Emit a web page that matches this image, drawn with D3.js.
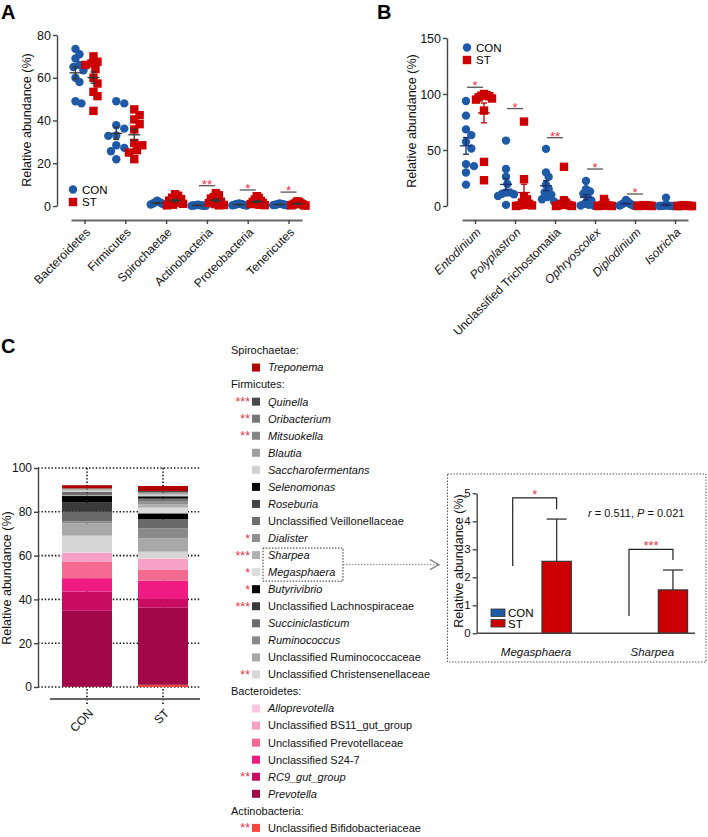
<!DOCTYPE html>
<html><head><meta charset="utf-8">
<script src="https://cdn.jsdelivr.net/npm/d3@7"></script>
<style>body{margin:0;background:#fff}</style>
</head><body>
<svg id="chart" width="708" height="837"></svg>
<script>
// ---------------- DATA ----------------
const groups = ["CON", "ST"];

// Panel A: phyla
const phylaA = ["Bacteroidetes", "Firmicutes", "Spirochaetae", "Actinobacteria", "Proteobacteria", "Tenericutes"];
const phylaCON = [
  [73.5, 69, 71, 65, 63.5, 66, 60, 58, 49, 48],
  [49, 48, 37.8, 36.2, 33, 32.8, 28.4, 27.2, 25.6, 21.9],
  [2.5, 2.0, 1.8, 1.6, 1.4, 1.2, 1.0, 0.9, 0.7, 0.5],
  [0.6, 0.5, 0.4, 0.3, 0.3, 0.2, 0.2, 0.1, 0.1, 0.1],
  [1.2, 1.0, 0.9, 0.8, 0.7, 0.6, 0.5, 0.4, 0.3, 0.2],
  [1.2, 1.0, 0.9, 0.8, 0.7, 0.6, 0.5, 0.5, 0.4, 0.3]
];
const phylaST = [
  [70, 67.5, 66.7, 66, 64, 60, 57.3, 53.4, 51.4, 44.5],
  [45.2, 42.5, 40.5, 38.3, 35.8, 29.5, 28.4, 26.1, 25, 21.9],
  [5.5, 4.8, 3.9, 3.2, 2.5, 2.0, 1.5, 1.0, 0.6, 0.3],
  [6.0, 5.0, 4.2, 3.5, 2.8, 2.0, 1.4, 0.9, 0.5, 0.3],
  [4.6, 3.8, 3.0, 2.4, 1.9, 1.5, 1.2, 0.9, 0.6, 0.4],
  [2.2, 1.8, 1.5, 1.2, 1.0, 0.8, 0.6, 0.4, 0.3, 0.2]
];
const sigACats = ["Actinobacteria", "Proteobacteria", "Tenericutes"];
const sigALevel = [9.5, 7.5, 6.5];
const sigAStars = ["**", "*", "*"];
const yTicksA = [0, 20, 40, 60, 80];

// Panel B: protozoa genera
const protoB = ["Entodinium", "Polyplastron", "Unclassified Trichostomatia", "Ophryoscolex", "Diplodinium", "Isotricha"];
const protoCON = [
  [93.8, 80.7, 68.4, 63.3, 57.4, 51.4, 37.4, 35.6, 29.9, 19.1],
  [58.4, 33.1, 26.2, 19.7, 12, 12, 11, 10.5, 9, 1],
  [51, 30, 26, 19, 15, 12, 10, 8, 6, 4],
  [22.4, 15, 13, 11, 8, 5, 2, 1, 0.5, 0.2],
  [5.4, 4, 3, 2.5, 2, 1.5, 1, 0.8, 0.5, 0.3],
  [7.5, 1, 0.5, 0.3, 0.2, 0.1, 0.1, 0, 0, 0]
];
const protoST = [
  [100, 99, 98.5, 98, 97, 96, 95, 85.2, 39.4, 23],
  [75.4, 23.9, 8, 6, 3, 2, 1, 0.5, 0.5, 0],
  [35, 5, 3, 2, 1, 1, 0.5, 0.5, 0, 0],
  [6.3, 3, 1, 0.5, 0.3, 0.2, 0.1, 0.1, 0, 0],
  [0.8, 0.5, 0.4, 0.3, 0.2, 0.2, 0.1, 0.1, 0, 0],
  [0.8, 0.5, 0.3, 0.2, 0.1, 0.1, 0, 0, 0, 0]
];
const sigBCats = ["Entodinium", "Polyplastron", "Unclassified Trichostomatia", "Ophryoscolex", "Diplodinium"];
const sigBLevel = [106, 87, 61, 33, 10.7];
const sigBStars = ["*", "*", "**", "*", "*"];
const yTicksB = [0, 50, 100, 150];

// Panel C: bacterial genera (legend order, top of stack first)
const generaC = ["Treponema", "Quinella", "Oribacterium", "Mitsuokella", "Blautia", "Saccharofermentans",
  "Selenomonas", "Roseburia", "Unclassified Veillonellaceae", "Dialister", "Sharpea", "Megasphaera",
  "Butyrivibrio", "Unclassified Lachnospiraceae", "Succiniclasticum", "Ruminococcus",
  "Unclassified Ruminococcaceae", "Unclassified Christensenellaceae", "Alloprevotella",
  "Unclassified BS11_gut_group", "Unclassified Prevotellaceae", "Unclassified S24-7", "RC9_gut_group",
  "Prevotella", "Unclassified Bifidobacteriaceae"];
const phylumC = ["Spirochaetae",
  "Firmicutes", "Firmicutes", "Firmicutes", "Firmicutes", "Firmicutes", "Firmicutes", "Firmicutes", "Firmicutes",
  "Firmicutes", "Firmicutes", "Firmicutes", "Firmicutes", "Firmicutes", "Firmicutes", "Firmicutes", "Firmicutes", "Firmicutes",
  "Bacteroidetes", "Bacteroidetes", "Bacteroidetes", "Bacteroidetes", "Bacteroidetes", "Bacteroidetes",
  "Actinobacteria"];
const conC = [1.4, 0.2, 0.2, 0.2, 0.4, 0.8, 0.3, 0.4, 0.6, 0.3, 0.05, 0.1, 3.0, 4.2, 4.3, 1.0, 5.6, 7.6, 0.3, 4.1, 7.4, 6.1, 8.8, 34.7, 0.1];
const stC  = [2.3, 0.5, 0.3, 0.4, 0.4, 0.8, 0.8, 0.6, 1.0, 1.2, 1.6, 2.6, 2.6, 0.3, 3.9, 4.6, 6.1, 3.0, 0.3, 5.0, 5.0, 8.3, 4.0, 35.2, 1.0];
const starsC = ["", "***", "**", "**", "", "", "", "", "", "*", "***", "*", "*", "***", "", "", "", "**", "", "", "", "", "**", "", "**"];
const yTicksC = [0, 20, 40, 60, 80, 100];

// Inset
const insetCats = ["Megasphaera", "Sharpea"];
const insetMeanCON = [0.01, 0.01];
const insetMeanST = [2.57, 1.55];
const insetErrST = [1.51, 0.71];
const insetStars = ["*", "***"];
const insetBracketLeftLow = [2.4, 0.62];
const insetBracketTop = [4.84, 3.0];
const insetBracketRightLow = [4.43, 2.62];
const insetStat = {r: "0.511", P: "0.021"};
const yTicksInset = [0, 1, 2, 3, 4, 5];

// ---------------- STYLE ----------------
const FONT = '"Liberation Sans", Arial, Helvetica, sans-serif';
const BLUE = "#1f5aa6", RED = "#cc0000", STAR = "#e8344a", AX = "#444";
const colorsC = ["#b00000", "#4a4a4a", "#777777", "#858585", "#a0a0a0", "#d0d0d0",
  "#0a0a0a", "#444444", "#6e6e6e", "#909090", "#b0b0b0", "#dcdcdc",
  "#000000", "#3a3a3a", "#6a6a6a", "#8a8a8a", "#a8a8a8", "#d6d6d6",
  "#fcc6dd", "#f7a1c4", "#f56a90", "#ef1a82", "#c80c62", "#a0084a", "#f4473f"];

const svg = d3.select("#chart").attr("font-family", FONT);

function styleAxis(sel, fs) {
  sel.attr("font-family", FONT).attr("font-size", fs);
  sel.select(".domain").attr("stroke", AX).attr("stroke-width", 1.4);
  sel.selectAll(".tick line").attr("stroke", AX).attr("stroke-width", 1.4);
  sel.selectAll(".tick text").attr("fill", "#111");
}

function beeswarm(vals, y, r, maxHalf) {
  const order = d3.range(vals.length).sort((a, b) => d3.descending(vals[a], vals[b]));
  const placed = [];
  const off = new Array(vals.length).fill(0);
  const step = r * 0.8, minD = r * 1.8;
  for (const i of order) {
    const yi = y(vals[i]);
    for (let k = 0; k < 80; k++) {
      const c = k === 0 ? 0 : (k % 2 ? 1 : -1) * Math.ceil(k / 2) * step;
      if (placed.every(p => Math.hypot(p.x - c, p.y - yi) >= minD)) { off[i] = c; break; }
    }
    placed.push({x: off[i], y: yi});
  }
  const mx = d3.max(off, o => Math.abs(o));
  const s = mx > maxHalf ? maxHalf / mx : 1;
  return off.map(o => o * s);
}

function dotPanel(o) {
  const g = svg.append("g");
  const x = d3.scalePoint().domain(o.cats).range(o.xRange).padding(o.pad);
  const y = d3.scaleLinear().domain(o.yDomain).range(o.yRange);

  const ya = g.append("g").attr("transform", `translate(${o.yAxisX},0)`)
    .call(d3.axisLeft(y).tickValues(o.yTicks).tickFormat(d3.format("d")).tickSize(4).tickSizeOuter(0).tickPadding(2));
  styleAxis(ya, 12.5);

  const xa = g.append("g").attr("transform", `translate(0,${o.xAxisY})`)
    .call(d3.axisBottom(x).tickSize(4).tickSizeOuter(0));
  styleAxis(xa, 12);
  xa.select(".domain").attr("stroke", "#666").attr("stroke-width", 1.8);
  xa.selectAll(".tick text").attr("x", 0).attr("y", 0).attr("dy", "0.35em")
    .attr("text-anchor", "end").attr("transform", "translate(3,10) rotate(-45)")
    .style("font-style", d => o.italic(d) ? "italic" : "normal");

  g.append("text").attr("transform", `translate(${o.yLabelX},${o.yLabelY}) rotate(-90)`)
    .attr("text-anchor", "middle").attr("font-size", 12.5).attr("fill", "#111")
    .text("Relative abundance (%)");

  const r = 4.2;
  o.cats.forEach((c, ci) => {
    groups.forEach(grp => {
      const vals = grp === "CON" ? o.con[ci] : o.st[ci];
      const cx = x(c) + (grp === "CON" ? -o.off : o.off);
      const offs = beeswarm(vals, y, r, o.maxHalf);
      const pts = g.append("g");
      vals.forEach((v, i) => {
        if (grp === "CON") {
          pts.append("circle").attr("cx", cx + offs[i]).attr("cy", y(v)).attr("r", r).attr("fill", BLUE);
        } else {
          pts.append("rect").attr("x", cx + offs[i] - r).attr("y", y(v) - r)
            .attr("width", 2 * r).attr("height", 2 * r).attr("fill", RED);
        }
      });
      const m = d3.mean(vals), se = d3.deviation(vals) / Math.sqrt(vals.length);
      const col = grp === "CON" ? o.errCon : o.errSt;
      const eb = g.append("g").attr("stroke", col).attr("stroke-width", 1.3);
      eb.append("line").attr("x1", cx).attr("x2", cx).attr("y1", y(Math.max(0, m - se))).attr("y2", y(m + se));
      eb.append("line").attr("x1", cx - 6).attr("x2", cx + 6).attr("y1", y(m)).attr("y2", y(m));
      eb.append("line").attr("x1", cx - 3).attr("x2", cx + 3).attr("y1", y(m + se)).attr("y2", y(m + se));
      if (m - se > 0) eb.append("line").attr("x1", cx - 3).attr("x2", cx + 3).attr("y1", y(m - se)).attr("y2", y(m - se));
    });
  });

  o.sigCats.forEach((c, i) => {
    const yy = y(o.sigLevel[i]);
    g.append("line").attr("x1", x(c) - 8).attr("x2", x(c) + 8).attr("y1", yy).attr("y2", yy)
      .attr("stroke", "#555").attr("stroke-width", 1.3);
    g.append("text").attr("x", x(c)).attr("y", yy + 3).attr("text-anchor", "middle")
      .attr("font-size", 13).attr("fill", STAR).text(o.sigStars[i]);
  });

  // legend
  const lg = g.append("g");
  lg.append("circle").attr("cx", o.legX).attr("cy", o.legY).attr("r", r).attr("fill", BLUE);
  lg.append("rect").attr("x", o.legX - r).attr("y", o.legY + 12.5 - r).attr("width", 2 * r).attr("height", 2 * r).attr("fill", RED);
  lg.append("text").attr("x", o.legX + 9).attr("y", o.legY).attr("dy", "0.35em").attr("font-size", 11.5).text("CON");
  lg.append("text").attr("x", o.legX + 9).attr("y", o.legY + 12.5).attr("dy", "0.35em").attr("font-size", 11.5).text("ST");
}

// Panel A
dotPanel({cats: phylaA, con: phylaCON, st: phylaST, xRange: [71, 302], pad: 0.33,
  yDomain: [0, 80], yRange: [206, 35], yTicks: yTicksA, yAxisX: 57, xAxisY: 220,
  yLabelX: 31, yLabelY: 120, off: 9, maxHalf: 8, italic: () => false,
  errCon: "#333", errSt: "#333", sigCats: sigACats, sigLevel: sigALevel, sigStars: sigAStars,
  legX: 73, legY: 189.5});

// Panel B
dotPanel({cats: protoB, con: protoCON, st: protoST, xRange: [462, 688], pad: 0.325,
  yDomain: [0, 150], yRange: [206, 38], yTicks: yTicksB, yAxisX: 447, xAxisY: 220,
  yLabelX: 416, yLabelY: 121, off: 9, maxHalf: 8, italic: d => !d.startsWith("Unclassified"),
  errCon: "#1c2f6b", errSt: "#c00000", sigCats: sigBCats, sigLevel: sigBLevel, sigStars: sigBStars,
  legX: 467, legY: 47.5});

// Panel labels
[["A", 1, 19], ["B", 377, 19], ["C", 1, 353]].forEach(([t, x, y]) => {
  svg.append("text").attr("x", x).attr("y", y).attr("font-size", 20).attr("font-weight", "bold").text(t);
});

// ---------------- Panel C stacked bars ----------------
(function () {
  const g = svg.append("g");
  const x = d3.scaleBand().domain(groups).range([49, 201]).paddingInner(0.342).paddingOuter(0.171);
  const y = d3.scaleLinear().domain([0, 100]).range([687, 468]);
  const keys = generaC.slice().reverse();
  const rows = groups.map(grp => {
    const row = {group: grp};
    generaC.forEach((k, i) => row[k] = grp === "CON" ? conC[i] : stC[i]);
    return row;
  });
  const color = d3.scaleOrdinal().domain(generaC).range(colorsC);
  const series = d3.stack().keys(keys)(rows);

  // dotted grid
  yTicksC.forEach(t => {
    g.append("line").attr("x1", 38).attr("x2", 201).attr("y1", y(t)).attr("y2", y(t))
      .attr("stroke", "#111").attr("stroke-width", 1.6).attr("stroke-dasharray", "1.4,2");
  });
  groups.forEach(grp => {
    const cx = x(grp) + x.bandwidth() / 2;
    g.append("line").attr("x1", cx).attr("x2", cx).attr("y1", y(100)).attr("y2", 706)
      .attr("stroke", "#111").attr("stroke-width", 1.6).attr("stroke-dasharray", "1.4,2");
  });

  series.forEach(s => {
    g.append("g").attr("fill", color(s.key)).selectAll("rect").data(s).join("rect")
      .attr("x", d => x(d.data.group)).attr("width", x.bandwidth())
      .attr("y", d => y(d[1])).attr("height", d => y(d[0]) - y(d[1]));
  });

  const ya = g.append("g").attr("transform", "translate(38,0)")
    .call(d3.axisLeft(y).tickValues(yTicksC).tickFormat(d3.format("d")).tickSize(4).tickSizeOuter(0).tickPadding(2));
  styleAxis(ya, 12);
  const xa = g.append("g").attr("transform", "translate(0,699)")
    .call(d3.axisBottom(x).tickSize(0).tickSizeOuter(0));
  styleAxis(xa, 12);
  xa.select(".domain").attr("d", "M50,0H200").attr("stroke", "#666").attr("stroke-width", 1.8);
  xa.selectAll(".tick text").attr("x", 0).attr("y", 0).attr("dy", "0.35em")
    .attr("text-anchor", "end").attr("transform", "translate(4,12) rotate(-45)");

  g.append("text").attr("transform", "translate(11,578) rotate(-90)").attr("text-anchor", "middle")
    .attr("font-size", 12.5).attr("fill", "#111").text("Relative abundance (%)");

  // legend
  const lg = svg.append("g").attr("font-size", 11).attr("fill", "#111");
  let row = 0; const y0 = 350.5, pitch = 17.05;
  let lastPhylum = null;
  const rowY = {};
  generaC.forEach((gname, i) => {
    if (phylumC[i] !== lastPhylum) {
      lg.append("text").attr("x", 231).attr("y", y0 + row * pitch).attr("dy", "0.35em").text(phylumC[i] + ":");
      row++; lastPhylum = phylumC[i];
    }
    const yy = y0 + row * pitch;
    rowY[gname] = yy;
    lg.append("rect").attr("x", 252).attr("y", yy - 4).attr("width", 8).attr("height", 8).attr("fill", color(gname));
    lg.append("text").attr("x", 268).attr("y", yy).attr("dy", "0.35em")
      .style("font-style", gname.startsWith("Unclassified") ? "normal" : "italic").text(gname);
    if (starsC[i]) lg.append("text").attr("x", 250).attr("y", yy + 4.5).attr("text-anchor", "end")
      .attr("font-size", 12.5).attr("fill", STAR).text(starsC[i]);
    row++;
  });

  // dotted box around Sharpea & Megasphaera + connector
  const by0 = rowY["Sharpea"] - 7, by1 = rowY["Megasphaera"] + 9;
  svg.append("rect").attr("x", 263).attr("y", by0).attr("width", 80).attr("height", by1 - by0)
    .attr("fill", "none").attr("stroke", "#333").attr("stroke-width", 1).attr("stroke-dasharray", "1.5,1.5");
  const cy = (by0 + by1) / 2;
  svg.append("line").attr("x1", 343).attr("x2", 437).attr("y1", cy).attr("y2", cy)
    .attr("stroke", "#888").attr("stroke-width", 1).attr("stroke-dasharray", "1.5,1.5");
  svg.append("path").attr("d", `M430,${cy - 5}L439,${cy}L430,${cy + 5}`)
    .attr("fill", "none").attr("stroke", "#888").attr("stroke-width", 1.4);
})();

// ---------------- Inset ----------------
(function () {
  const g = svg.append("g");
  g.append("rect").attr("x", 447.5).attr("y", 474).attr("width", 258.5).attr("height", 188)
    .attr("fill", "none").attr("stroke", "#555").attr("stroke-width", 1).attr("stroke-dasharray", "1.5,1.5");
  const x0 = d3.scalePoint().domain(insetCats).range([542, 658.3]);
  const xs = d3.scaleBand().domain(groups).range([-29.3, 29.3]);
  const y = d3.scaleLinear().domain([0, 5]).range([633.3, 493.3]);

  insetCats.forEach((c, i) => {
    const hC = y(0) - y(insetMeanCON[i]);
    g.append("rect").attr("x", x0(c) + xs("CON")).attr("width", xs.bandwidth())
      .attr("y", y(insetMeanCON[i])).attr("height", hC).attr("fill", BLUE);
    g.append("rect").attr("x", x0(c) + xs("ST")).attr("width", xs.bandwidth())
      .attr("y", y(insetMeanST[i])).attr("height", y(0) - y(insetMeanST[i]))
      .attr("fill", RED).attr("stroke", "#333").attr("stroke-width", 1.2);
    const cx = x0(c) + xs("ST") + xs.bandwidth() / 2;
    const top = y(insetMeanST[i] + insetErrST[i]);
    g.append("line").attr("x1", cx).attr("x2", cx).attr("y1", y(insetMeanST[i])).attr("y2", top)
      .attr("stroke", "#333").attr("stroke-width", 1.3);
    g.append("line").attr("x1", cx - 10).attr("x2", cx + 10).attr("y1", top).attr("y2", top)
      .attr("stroke", "#333").attr("stroke-width", 1.3);
    const lx = x0(c) + xs("CON");
    g.append("path").attr("d", `M${lx},${y(insetBracketLeftLow[i])}V${y(insetBracketTop[i])}H${cx}V${y(insetBracketRightLow[i])}`)
      .attr("fill", "none").attr("stroke", "#222").attr("stroke-width", 1.2);
    g.append("text").attr("x", (lx + cx) / 2).attr("y", y(insetBracketTop[i]) + 1).attr("text-anchor", "middle")
      .attr("font-size", 13).attr("fill", STAR).text(insetStars[i]);
    g.append("text").attr("x", x0(c) - 6).attr("y", 652).attr("dy", "0.35em").attr("text-anchor", "middle")
      .attr("font-size", 11.5).style("font-style", "italic").attr("fill", "#111").text(c);
  });

  const ya = g.append("g").attr("transform", "translate(476.7,0)")
    .call(d3.axisLeft(y).tickValues(yTicksInset).tickFormat(d3.format("d")).tickSize(4).tickSizeOuter(0).tickPadding(2));
  styleAxis(ya, 11.5);
  g.append("line").attr("x1", 476.7).attr("x2", 695).attr("y1", y(0)).attr("y2", y(0))
    .attr("stroke", AX).attr("stroke-width", 1.4);

  g.append("text").attr("transform", "translate(463,561) rotate(-90)").attr("text-anchor", "middle")
    .attr("font-size", 12.5).attr("fill", "#111").text("Relative abundance (%)");

  const st = g.append("text").attr("x", 588).attr("y", 513).attr("dy", "0.35em").attr("font-size", 11).attr("fill", "#111");
  st.append("tspan").style("font-style", "italic").text("r");
  st.append("tspan").text(" = " + insetStat.r + ", ");
  st.append("tspan").style("font-style", "italic").text("P");
  st.append("tspan").text(" = " + insetStat.P);

  [["CON", BLUE, 609], ["ST", RED, 619.5]].forEach(([t, c, yy]) => {
    g.append("rect").attr("x", 491).attr("y", yy).attr("width", 14).attr("height", 7.5)
      .attr("fill", c).attr("stroke", "#333").attr("stroke-width", 0.8);
    g.append("text").attr("x", 508).attr("y", yy + 4).attr("dy", "0.35em").attr("font-size", 11.5).text(t);
  });
})();
</script>
</body></html>
